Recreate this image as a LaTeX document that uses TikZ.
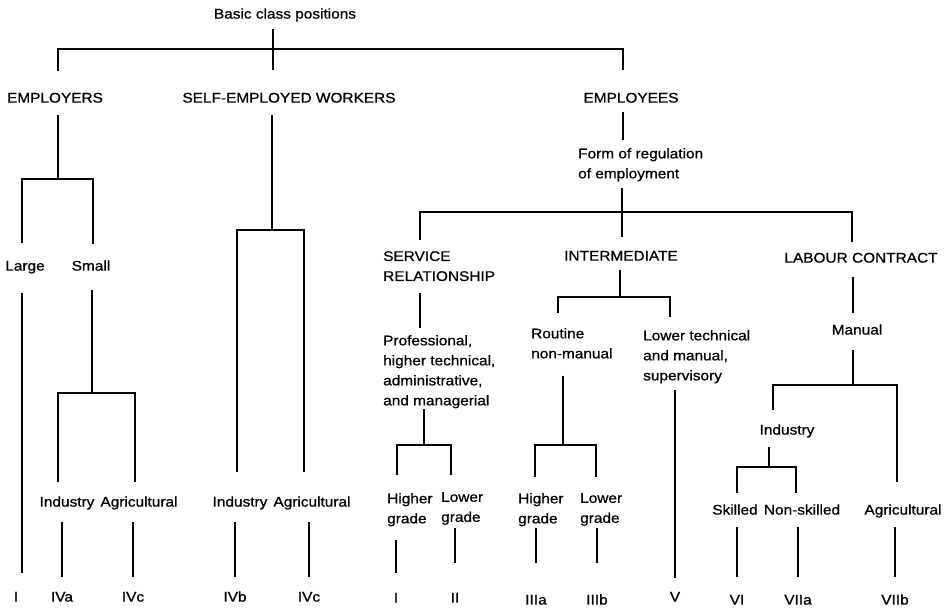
\documentclass[tikz,border=0pt]{standalone}
\usepackage{fontspec}
\setmainfont{Liberation Sans}[FakeStretch=1.1, FakeBold=0.8]
\usepackage{tikz}
\usetikzlibrary{positioning}

\begin{document}
\begin{tikzpicture}[x=1pt, y=-1pt,
	lbl/.style={font=\fontsize{14}{20}\selectfont, inner sep=1pt, text height=10.2pt, text depth=3pt},
	blk/.style={font=\fontsize{14}{20}\selectfont, inner sep=1pt, align=left, anchor=north west},
	link/.style={line width=1.2pt}]
	\useasboundingbox (0,0) rectangle (947,610);

	% labels of the tree
	\node[lbl] (basic) at (285,15) {Basic class positions};
	\node[lbl] (employers) at (55,99) {EMPLOYERS};
	\node[lbl] (selfemp) at (289,99) {SELF-EMPLOYED WORKERS};
	\node[lbl] (employees) at (631,99) {EMPLOYEES};
	\node[blk] (form) at (577,147) {Form of regulation\\of employment};

	\node[lbl] (large) at (25,267) {Large};
	\node[lbl] (small) at (91,267) {Small};
	\node[lbl] (ind1) at (67,503) {Industry};
	\node[lbl] (agr1) at (139,503) {Agricultural};
	\node[lbl] (ind2) at (240,503) {Industry};
	\node[lbl] (agr2) at (312,503) {Agricultural};

	\node[blk] (service) at (382,250) {SERVICE\\RELATIONSHIP};
	\node[lbl] (inter) at (621,257) {INTERMEDIATE};
	\node[lbl] (labour) at (861,259) {LABOUR CONTRACT};
	\node[blk] (prof) at (382,334) {Professional,\\higher technical,\\administrative,\\and managerial};
	\node[blk] (routine) at (530,327) {Routine\\non-manual};
	\node[blk] (lowtech) at (642,329) {Lower technical\\and manual,\\supervisory};
	\node[lbl] (manual) at (857,331) {Manual};
	\node[lbl] (ind3) at (787,431) {Industry};

	\node[blk] (hg1) at (386,492) {Higher\\grade};
	\node[blk] (lg1) at (440,491) {Lower\\grade};
	\node[blk] (hg2) at (517,492) {Higher\\grade};
	\node[blk] (lg2) at (579,492) {Lower\\grade};
	\node[lbl] (skilled) at (735,511) {Skilled};
	\node[lbl] (nonsk) at (802,511) {Non-skilled};
	\node[lbl] (agr3) at (903,511) {Agricultural};

	% class numbers
	\node[lbl] (cI) at (16,598) {I};
	\node[lbl] (iva) at (62,598) {IVa};
	\node[lbl] (ivc) at (133,598) {IVc};
	\node[lbl] (ivb) at (235,598) {IVb};
	\node[lbl] (ivc2) at (309,598) {IVc};
	\node[lbl] (ci2) at (396,599) {I};
	\node[lbl] (cii) at (455,599) {II};
	\node[lbl] (ciiia) at (536,601) {IIIa};
	\node[lbl] (ciiib) at (597,601) {IIIb};
	\node[lbl] (cv) at (675,598) {V};
	\node[lbl] (cvi) at (737,601) {VI};
	\node[lbl] (cviia) at (798,601) {VIIa};
	\node[lbl] (cviib) at (895,601) {VIIb};

	% junctions of the bars
	\coordinate (j0a) at (58,49);   \coordinate (j0m) at (273,49);  \coordinate (j0b) at (623,49);
	\coordinate (j1a) at (22,179);  \coordinate (j1m) at (58,179);  \coordinate (j1b) at (93,179);
	\coordinate (j2a) at (58,393);  \coordinate (j2m) at (92,393);  \coordinate (j2b) at (135,393);
	\coordinate (j3a) at (237,230); \coordinate (j3m) at (272,230); \coordinate (j3b) at (304,230);
	\coordinate (j4a) at (420,212); \coordinate (j4m) at (622,212); \coordinate (j4b) at (852,212);
	\coordinate (j5a) at (397,445); \coordinate (j5m) at (424,445); \coordinate (j5b) at (451,445);
	\coordinate (j6a) at (558,297); \coordinate (j6m) at (620,297); \coordinate (j6b) at (670,297);
	\coordinate (j7a) at (535,445); \coordinate (j7m) at (563,445); \coordinate (j7b) at (596,445);
	\coordinate (j8a) at (773,385); \coordinate (j8m) at (853,385); \coordinate (j8b) at (897,385);
	\coordinate (j9a) at (737,467); \coordinate (j9m) at (769,467); \coordinate (j9b) at (796,467);

	% top level
	\draw[link, shorten <=20pt, shorten >=21pt] (employers.north -| j0a) -- (j0a) -- (j0b) -- (employees.north -| j0b);
	\draw[link, shorten <=6pt, shorten >=21pt] (basic.south -| j0m) -- (selfemp.north -| j0m);

	% employers
	\draw[link, shorten <=8pt] (employers.south -| j1m) -- (j1m);
	\draw[link, shorten <=16pt, shorten >=15pt] (large.north -| j1a) -- (j1a) -- (j1b) -- (small.north -| j1b);
	\draw[link, shorten <=18pt, shorten >=17pt] (large.south -| j1a) -- (cI.north -| j1a);
	\draw[link, shorten <=15pt] (small.south -| j2m) -- (j2m);
	\draw[link, shorten <=13pt, shorten >=13pt] (ind1.north -| j2a) -- (j2a) -- (j2b) -- (agr1.north -| j2b);
	\draw[link, shorten <=11pt, shorten >=13pt] (ind1.south -| iva.north) -- (iva.north);
	\draw[link, shorten <=11pt, shorten >=13pt] (agr1.south -| ivc.north) -- (ivc.north);

	% self-employed workers
	\draw[link, shorten <=8pt] (selfemp.south -| j3m) -- (j3m);
	\draw[link, shorten <=23pt, shorten >=23pt] (ind2.north -| j3a) -- (j3a) -- (j3b) -- (agr2.north -| j3b);
	\draw[link, shorten <=11pt, shorten >=13pt] (ind2.south -| ivb.north) -- (ivb.north);
	\draw[link, shorten <=11pt, shorten >=13pt] (agr2.south -| ivc2.north) -- (ivc2.north);

	% employees
	\draw[link, shorten <=5pt, shorten >=7pt] (employees.south -| j0b) -- (form.north -| j0b);
	\draw[link, shorten <=6pt, shorten >=12pt] (form.south -| j4m) -- (inter.north -| j4m);
	\draw[link, shorten <=10pt, shorten >=9pt] (service.north -| j4a) -- (j4a) -- (j4b) -- (labour.north -| j4b);

	% service relationship
	\draw[link, shorten <=11pt, shorten >=6pt] (service.south -| j4a) -- (prof.north -| j4a);
	\draw[link] (prof.south -| j5m) -- (j5m);
	\draw[link, shorten <=17pt, shorten >=16pt] (hg1.north -| j5a) -- (j5a) -- (j5b) -- (lg1.north -| j5b);
	\draw[link, shorten <=13pt, shorten >=18pt] (hg1.south -| ci2.north) -- (ci2.north);
	\draw[link, shorten <=2pt, shorten >=28pt] (lg1.south -| cii.north) -- (cii.north);

	% intermediate
	\draw[link, shorten <=5pt] (inter.south -| j6m) -- (j6m);
	\draw[link, shorten <=14pt, shorten >=12pt] (routine.north -| j6a) -- (j6a) -- (j6b) -- (lowtech.north -| j6b);
	\draw[link, shorten <=16pt] (routine.south -| j7m) -- (j7m);
	\draw[link, shorten <=15pt, shorten >=15pt] (hg2.north -| j7a) -- (j7a) -- (j7b) -- (lg2.north -| j7b);
	\draw[link, shorten <=1pt, shorten >=30pt] (hg2.south -| ciiia.north) -- (ciiia.north);
	\draw[link, shorten <=1pt, shorten >=30pt] (lg2.south -| ciiib.north) -- (ciiib.north);
	\draw[link, shorten <=6pt, shorten >=12pt] (lowtech.south -| cv.north) -- (cv.north);

	% labour contract
	\draw[link, shorten <=10pt, shorten >=10pt] (labour.south -| j8m) -- (manual.north -| j8m);
	\draw[link, shorten <=11pt] (manual.south -| j8m) -- (j8m);
	\draw[link, shorten <=13pt, shorten >=21pt] (ind3.north -| j8a) -- (j8a) -- (j8b) -- (agr3.north -| j8b);
	\draw[link, shorten <=8pt] (ind3.south -| j9m) -- (j9m);
	\draw[link, shorten <=10pt, shorten >=10pt] (skilled.north -| j9a) -- (j9a) -- (j9b) -- (nonsk.north -| j9b);
	\draw[link, shorten <=8pt, shorten >=16pt] (skilled.south -| cvi.north) -- (cvi.north);
	\draw[link, shorten <=8pt, shorten >=16pt] (nonsk.south -| cviia.north) -- (cviia.north);
	\draw[link, shorten <=8pt, shorten >=16pt] (agr3.south -| cviib.north) -- (cviib.north);
\end{tikzpicture}
\end{document}
